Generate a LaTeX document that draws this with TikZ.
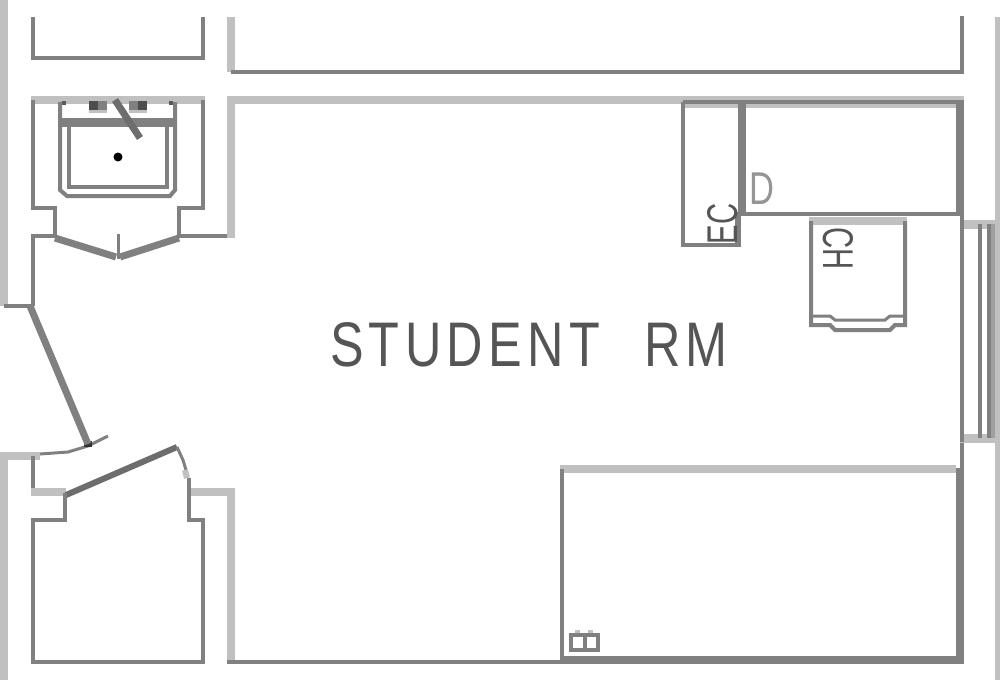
\documentclass[tikz,border=0pt]{standalone}
\usepackage{fontspec}
\setmainfont{Liberation Sans}
\tikzset{
  thinw/.style={draw=wallgrey,line width=4pt,line cap=butt,line join=miter},
  thickw/.style={draw=wallgrey,line width=8pt,line cap=butt},
  lightw/.style={draw=lightgrey,line width=8pt,line cap=butt},
  doorw/.style={draw=wallgrey,line width=7pt,line cap=butt},
  fine/.style={draw=wallgrey,line width=3pt,line cap=butt},
  lab/.style={text=labgrey,inner sep=0pt,outer sep=0pt},
}
\definecolor{wallgrey}{HTML}{808080}
\definecolor{lightgrey}{HTML}{C0C0C0}
\definecolor{labgrey}{HTML}{555555}
\begin{document}
\begin{tikzpicture}[x=1pt,y=-1pt]
\useasboundingbox (0,0) rectangle (1000,680);
\fill[white] (0,0) rectangle (1000,680);
% outer light strips
\draw[lightw] (4,0) -- (4,306);
\draw[lightw] (4,456) -- (4,680);
\draw[lightw,line width=5pt] (997.5,17) -- (997.5,680);
% top rooms
\draw[thinw] (33,17) -- (33,58) -- (203,58) -- (203,17);
\draw[lightw] (231,17) -- (231,72);
\draw[thinw] (962,16) -- (962,72);
\draw[thinw] (231,72) -- (964,72);
% closet with sink
\draw[lightw] (31,100) -- (205,100);
\draw[thinw] (33,100) -- (33,208) -- (55,208) -- (55,238);
\draw[thinw] (203,100) -- (203,208) -- (179,208) -- (179,238);
\draw[thinw] (179,236) -- (232,236);
\draw[thinw] (33,306) -- (33,236) -- (55,236);
\draw[thinw] (4,306) -- (33,306);
% sink
\fill[lightgrey] (89,100) rectangle (107,113);
\fill[lightgrey] (129,100) rectangle (147,113);
\draw[fine,line width=4pt] (60,102) -- (60,190) -- (67,196) -- (170,196) -- (175,190) -- (175,102);
\draw[draw=wallgrey,line width=9pt] (60,122.5) -- (175,122.5);
\draw[thinw] (69,127) -- (69,187) -- (167,187) -- (167,127);
\fill[black] (118,157) circle (4.5pt);
\draw[draw=wallgrey!85!black,line width=7pt] (115,100) -- (140,138);
\fill[wallgrey!60!black] (89,101) rectangle (98,110);
\fill[wallgrey!60!black] (138,101) rectangle (147,110);
\fill[wallgrey] (98,101) rectangle (107,110);
\fill[wallgrey] (129,101) rectangle (138,110);
\fill[wallgrey!70!black] (62,101) rectangle (66,105);
\fill[wallgrey!70!black] (169,101) rectangle (173,105);
% bifold
\draw[doorw] (55,238) -- (116,257);
\draw[doorw] (179,238) -- (120,257);
\draw[fine] (118,234) -- (118,259);
% main walls top
\draw[lightw,line width=12pt] (683,102) -- (964,102);
\draw[lightw] (227,100) -- (964,100);
\draw[lightw] (231,100) -- (231,238);
\draw[thinw] (683,102) -- (964,102);
\draw[thickw] (960,100) -- (960,216);
\draw[thickw] (742,102) -- (742,216);
\draw[thinw] (745,214) -- (964,214);
\draw[thinw] (683,102) -- (683,245) -- (741,245);
\draw[draw=wallgrey,line width=6.5pt] (738,212) -- (738,247);
% labels
\node[lab,rotate=90] (ec) at (723,224) {\scalebox{.68}[1]{\fontsize{43}{43}\selectfont EC}};
\node[text=lightgrey!60!labgrey,inner sep=0pt] (d) at (762,189) {\scalebox{.75}[1]{\fontsize{46}{46}\selectfont D}};
\node[lab,rotate=-90] (ch) at (838,249) {\scalebox{.68}[1]{\fontsize{43}{43}\selectfont CH}};
\node[lab] (title) at (529,345) {\scalebox{.8}[1]{\fontsize{63}{63}\selectfont\addfontfeature{LetterSpace=10.5}STUDENT\hspace{.88em}RM}};
% chair
\draw[lightw] (809,221) -- (907,221);
\draw[thinw] (811,221) -- (811,325) -- (830,325) -- (835,330) -- (890,330) -- (895,325) -- (905,325) -- (905,221);
\draw[fine] (811,316) -- (830,316) -- (835,320) -- (885,320) -- (890,316) -- (905,316);
% right wall and window
\draw[thinw] (962,214) -- (962,470);
\draw[draw=lightgrey,line width=9pt] (960,224.5) -- (1000,224.5);
\draw[draw=lightgrey,line width=9pt] (960,438) -- (1000,438);
\draw[thinw] (962,220) -- (962,442);
\draw[thinw] (980,224) -- (980,438);
\draw[thinw] (989,224) -- (989,438);
\draw[draw=wallgrey!50!lightgrey,line width=4pt] (993,224) -- (993,438);
% bed
\draw[lightw] (560,469) -- (956,469);
\draw[thinw] (562,469) -- (562,660);
\draw[thickw] (960,468) -- (960,664);
\draw[thickw] (562,660) -- (964,660);
\draw[thinw] (231,662) -- (562,662);
\fill[lightgrey] (575,630) rectangle (580,635);
\fill[lightgrey] (588,630) rectangle (593,635);
\draw[thinw] (571,635) rectangle (584.5,650);
\draw[thinw] (584.5,635) rectangle (598,650);
% lower left
\draw[lightw] (0,456) -- (40,456);
\draw[fine] (40,454) -- (68,452) -- (88,446) -- (108,436);
\fill[wallgrey!40!black] (84,441) rectangle (92,447);
\draw[doorw] (30,306) -- (88,444);
\draw[thinw] (33,456) -- (33,492);
\draw[lightw] (31,491.5) -- (66,491.5);
\draw[draw=wallgrey!85!black,line width=6pt] (66,495) -- (177,447);
\draw[thinw] (65,493) -- (65,520) -- (33,520) -- (33,662) -- (203,662) -- (203,520) -- (189,520) -- (189,478);
\draw[fine] (177,447) -- (183,460) -- (186,470);
\draw[lightw,line width=6pt] (185,470) -- (187,478);
\draw[lightw] (191,491.5) -- (235,491.5);
\draw[lightw] (231,491) -- (231,664);
\draw[thinw] (227,662) -- (235,662);
\end{tikzpicture}
\end{document}
